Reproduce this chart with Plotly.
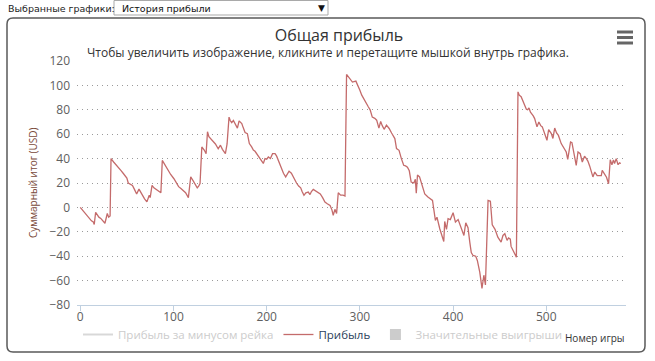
import plotly.graph_objects as go

# ---------------- data ----------------
games = [
    0, 2, 4, 6, 8, 10, 12, 14, 15, 16.5,
    18, 20, 22, 24, 26.5, 29, 30.5, 32, 33, 36,
    38, 40, 42, 44, 46, 48, 50, 51.5, 54, 56,
    58, 60.5, 63, 65, 67, 69, 71.5, 74, 75, 77,
    79, 81, 83, 86.5, 88, 90, 92, 94.5, 97, 100.5,
    103, 105.5, 108, 110.5, 113, 116, 118.5, 121, 123, 125.5,
    127, 128.5, 130.4, 133, 135, 136.5, 138, 140, 142, 145,
    148, 150.4, 152.5, 155.7, 157.5, 159.6, 161, 162.5, 164.3, 166.5,
    168.6, 170.4, 173.3, 175, 176.8, 179.3, 181.4, 183.9, 185.7, 187.5,
    190, 193, 196.4, 198.2, 200, 201.8, 204, 206.3, 209, 210.7,
    212.5, 214, 216.1, 218, 220.4, 222, 224, 226.5, 228, 230,
    232, 234.3, 236.5, 238, 240, 242, 244.6, 246.5, 248, 250,
    252.5, 255.4, 257.5, 260, 262.5, 265, 268, 270, 271.4, 273.2,
    275, 276.8, 279.3, 282, 284, 285.7, 288.6, 292, 295.7, 298,
    300, 302, 304.5, 307, 309, 311, 313.3, 316, 318, 320.4,
    322.3, 324, 326, 328.5, 331.4, 334, 336, 337.5, 339.3, 342,
    344.5, 347, 349, 351, 353, 355, 357.9, 359.5, 360.5, 361.8,
    364, 367, 369.6, 373, 375.5, 377.9, 381, 382.7, 385.7, 388,
    390, 391, 392.9, 394.6, 397, 400, 402.5, 405.4, 409, 411.6,
    413.6, 416, 417.9, 419.5, 421.4, 424.3, 426, 428.6, 431, 433,
    434.7, 437.5, 440, 442, 445, 448, 451.5, 453.5, 455.5, 457.9,
    459.5, 461.4, 462.2, 464.3, 466, 467.9, 469.6, 471, 473, 475.7,
    477, 478.6, 480, 481.4, 483, 484.6, 486, 487.5, 490, 492,
    494, 495.7, 498.2, 500.7, 502.5, 505.4, 507.1, 509, 511, 513,
    516, 519.6, 521.4, 523, 526, 527.5, 530.4, 532.1, 534, 536.4,
    538.6, 541, 543, 544.6, 546.5, 548.2, 550, 552, 554.6, 557,
    559, 560, 562.8, 564.6, 566.8, 568.6, 570.4, 572, 573.2, 575,
    577, 578.6, 580,
]
profit = [
    0, -2, -4, -5, -8, -9, -11, -12, -14, -4,
    -6, -8, -9, -11, -13, -5, -8, -7, 40, 37,
    35, 33, 31, 30, 28, 26, 24, 20, 19, 18,
    15, 11, 15, 12, 10, 7, 4.5, 10, 8, 18,
    16, 15, 14, 12, 38.5, 36, 33, 29.5, 27, 23.5,
    20, 17, 15.5, 14, 12, 8, 25, 22, 19, 16,
    17.5, 19.5, 49.5, 47, 44, 62, 58, 56.5, 55, 52,
    48, 51, 47.6, 44, 52, 74, 71, 69.4, 71.3, 67.5,
    65, 70.9, 68.7, 65, 61.4, 60.5, 52.3, 49.6, 47, 46,
    43, 40, 36, 40, 39.5, 41.3, 40, 44, 44, 42,
    38.6, 35, 31.8, 28, 25, 27.5, 29.6, 28, 25.5, 22,
    20, 17.5, 16, 13, 9.9, 12, 12.6, 10.5, 13, 14.8,
    13.5, 12.6, 11, 8, 4.4, 3, 1.6, -2, -6.6, -1.6,
    -5, 12, 10, 10, 9.3, 109, 105.7, 102.7, 103.5, 100,
    96, 92, 89, 85.5, 82.5, 80, 74, 73, 71.5, 65,
    70.5, 67, 64, 67.4, 64.7, 61, 57.7, 56.4, 48.2, 46.8,
    40, 34.5, 34, 33, 30, 20.8, 20, 23, 11.7, 26.5,
    25, 18, 11, 8.5, 7, 5.7, -10.7, -8, -17.5, -23,
    -28, -11.5, -18, -9.3, -10, -4.4, -12, -10, -17.5, -23,
    -12.6, -16.7, -28.5, -37, -39.4, -40, -43.5, -53, -66.3, -55.6,
    -63.5, 5.7, 5, -14.2, -18, -24.4, -28.5, -23, -21.6, -27,
    -25, -26, -32, -35.3, -38, -40.8, 94.7, 92, 90.7, 85,
    84, 80.5, 80, 81.5, 78, 76.8, 75, 72.8, 66, 70,
    67, 66, 60.5, 55, 63.8, 60.5, 56.5, 65, 61, 59,
    52.3, 46.8, 45.4, 39.4, 53.6, 53, 42.7, 34.5, 45.4, 44,
    37.2, 42, 40, 38, 34, 30.4, 25, 29, 26, 26,
    26, 30.4, 27, 24.7, 19.4, 39, 35, 39, 36, 40,
    35, 36.5, 36,
]
x_ticks = [0, 100, 200, 300, 400, 500]
y_ticks = [-80, -60, -40, -20, 0, 20, 40, 60, 80, 100, 120]

# ---------------- layout geometry helpers ----------------
W, H = 655, 361
ML, MR, MT, MB = 77, 29, 61, 56
PW, PH = W - ML - MR, H - MT - MB


def px(x):
    return (x - ML) / PW


def py(y):
    return (H - MB - y) / PH


FONT = "Open Sans, Noto Sans, DejaVu Sans, sans-serif"

fig = go.Figure()

fig.add_trace(go.Scatter(
    x=[None], y=[None], mode="lines",
    name="<span style='color:#cccccc'>Прибыль за минусом рейка</span>",
    line=dict(color="#d8d8d8", width=2),
))
fig.add_trace(go.Scatter(
    x=games, y=profit, mode="lines",
    name="<span style='color:#2b3f5c'>Прибыль</span>",
    line=dict(color="#c46b6b", width=1.3),
    hoverinfo="x+y",
))
fig.add_trace(go.Scatter(
    x=[None], y=[None], mode="markers",
    name="<span style='color:#cccccc'>Значительные выигрыши</span>",
    marker=dict(color="#cccccc", symbol="square", size=11),
))


def rrect(x0, y0, x1, y1, r):
    pts = [
        f"M {px(x0 + r)},{py(y0)}",
        f"L {px(x1 - r)},{py(y0)}",
        f"Q {px(x1)},{py(y0)} {px(x1)},{py(y0 + r)}",
        f"L {px(x1)},{py(y1 - r)}",
        f"Q {px(x1)},{py(y1)} {px(x1 - r)},{py(y1)}",
        f"L {px(x0 + r)},{py(y1)}",
        f"Q {px(x0)},{py(y1)} {px(x0)},{py(y1 - r)}",
        f"L {px(x0)},{py(y0 + r)}",
        f"Q {px(x0)},{py(y0)} {px(x0 + r)},{py(y0)}",
        "Z",
    ]
    return " ".join(pts)


shapes = [
    dict(type="path", xref="paper", yref="paper",
         path=rrect(7, 18, 645, 352, 6),
         line=dict(color="#5a5a5a", width=1.5)),
    dict(type="rect", xref="paper", yref="paper",
         x0=px(114), x1=px(328), y0=py(0.5), y1=py(15),
         line=dict(color="#a9a9a9", width=1), fillcolor="white"),
]
for yy in (32, 37.5, 43):
    shapes.append(dict(type="line", xref="paper", yref="paper",
                       x0=px(617), x1=px(633), y0=py(yy), y1=py(yy),
                       line=dict(color="#666666", width=3)))

annotations = [
    dict(text="Выбранные графики:", x=px(6), y=py(8.5), xref="paper", yref="paper",
         xanchor="left", yanchor="middle", showarrow=False,
         font=dict(family="DejaVu Sans, sans-serif", size=9.5, color="#222")),
    dict(text="История прибыли", x=px(120), y=py(8), xref="paper", yref="paper",
         xanchor="left", yanchor="middle", showarrow=False,
         font=dict(family="DejaVu Sans, sans-serif", size=9.5, color="#111")),
    dict(text="▼", x=px(321), y=py(8), xref="paper", yref="paper",
         xanchor="center", yanchor="middle", showarrow=False,
         font=dict(family="DejaVu Sans, sans-serif", size=9, color="#111")),
    dict(text="Чтобы увеличить изображение, кликните и перетащите мышкой внутрь графика.",
         x=px(327.5), y=py(53), xref="paper", yref="paper",
         xanchor="center", yanchor="middle", showarrow=False,
         font=dict(family=FONT, size=12, color="#333")),
    dict(text="Номер игры", x=px(627), y=py(338), xref="paper", yref="paper",
         xanchor="right", yanchor="middle", showarrow=False,
         font=dict(family=FONT, size=10, color="#333")),
    dict(text="Суммарный итог (USD)", x=px(33), y=py(183), xref="paper", yref="paper",
         xanchor="center", yanchor="middle", showarrow=False, textangle=-90,
         font=dict(family=FONT, size=10, color="#7a4a3a")),
]

fig.update_layout(
    width=W, height=H,
    margin=dict(l=ML, r=MR, t=MT, b=MB, autoexpand=False),
    paper_bgcolor="white", plot_bgcolor="white",
    title=dict(text="Общая прибыль", x=339 / W, y=1 - 35 / H,
               xref="container", yref="container",
               xanchor="center", yanchor="middle",
               font=dict(family=FONT, size=16, color="#333")),
    font=dict(family=FONT, size=12, color="#606060"),
    showlegend=True,
    legend=dict(orientation="h", x=px(78), xanchor="left",
                y=py(320), yanchor="top",
                font=dict(family=FONT, size=11.5, color="#333"),
                bgcolor="rgba(0,0,0,0)", itemclick=False, itemdoubleclick=False),
    xaxis=dict(range=[-3.5, 585.5], tickmode="array", tickvals=x_ticks,
               showgrid=False, zeroline=False,
               showline=True, linecolor="#C0D0E0", linewidth=1,
               ticks="outside", ticklen=5, tickcolor="#C0D0E0",
               ticklabelstandoff=-4,
               tickfont=dict(family=FONT, size=12, color="#606060"),
               fixedrange=True),
    yaxis=dict(range=[-80, 120], tickmode="array", tickvals=y_ticks,
               showgrid=True, gridcolor="#9a9a9a", griddash="1px,4px", gridwidth=1,
               zeroline=False, showline=False, ticks="",
               ticklabelstandoff=6,
               tickfont=dict(family=FONT, size=12, color="#606060"),
               fixedrange=True),
    shapes=shapes,
    annotations=annotations,
)

fig.write_html(
    "out.html",
    config={"displayModeBar": False},
    post_script="document.body.style.margin='0';document.body.style.padding='0';"
                "document.body.style.overflow='hidden';",
)
